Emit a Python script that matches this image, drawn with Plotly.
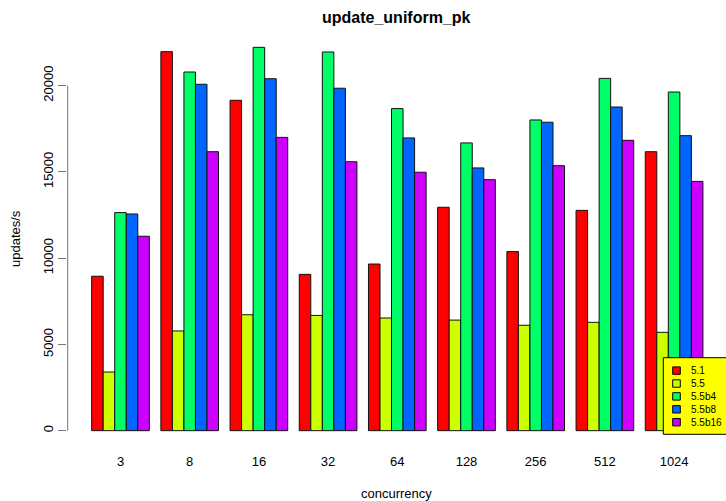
import plotly.graph_objects as go

categories = ["3", "8", "16", "32", "64", "128", "256", "512", "1024"]
series_names = ["5.1", "5.5", "5.5b4", "5.5b8", "5.5b16"]
v_51 = [8950, 21970, 19150, 9060, 9660, 12950, 10380, 12770, 16170]
v_55 = [3400, 5780, 6720, 6680, 6530, 6410, 6110, 6280, 5700]
v_55b4 = [12640, 20790, 22220, 21950, 18670, 16680, 18010, 20420, 19630]
v_55b8 = [12560, 20080, 20400, 19850, 16970, 15230, 17880, 18760, 17100]
v_55b16 = [11270, 16170, 17000, 15590, 14980, 14550, 15360, 16830, 14450]
y_ticks = [0, 5000, 10000, 15000, 20000]

series_values = [v_51, v_55, v_55b4, v_55b8, v_55b16]
colors = ["#FF0000", "#CCFF00", "#00FF66", "#0066FF", "#CC00FF"]

W, H = 726, 501
ML, MR, MT, MB = 67, 0, 32, 55
PW = W - ML - MR
PH = H - MT - MB
FONT = "Liberation Sans, Arial, sans-serif"


def px_x(px):
    return (px - ML) / PW


def px_y(py):
    return (H - MB - py) / PH


fig = go.Figure()
for name, vals, col in zip(series_names, series_values, colors):
    fig.add_trace(go.Bar(
        x=categories, y=vals, name=name,
        marker=dict(color=col, line=dict(color="#111111", width=1)),
        showlegend=False,
    ))

ymax = max(max(v) for v in series_values)
pad = 0.04 * ymax

fig.update_layout(
    width=W, height=H,
    margin=dict(l=ML, r=MR, t=MT, b=MB),
    paper_bgcolor="white", plot_bgcolor="white",
    barmode="group", bargap=1 / 6, bargroupgap=0,
    font=dict(family=FONT, size=13, color="black"),
    xaxis=dict(
        type="category", range=[-0.773, 8.75],
        showgrid=False, showline=False, zeroline=False,
        ticks="outside", ticklen=3, tickcolor="rgba(0,0,0,0)",
        tickfont=dict(size=13, family=FONT, color="black"),
    ),
    yaxis=dict(
        range=[-pad, ymax + pad],
        showgrid=False, showline=False, zeroline=False,
        tickvals=y_ticks, ticktext=[str(t) for t in y_ticks],
        ticks="outside", ticklen=8, tickcolor="#777777", tickwidth=1,
        tickangle=-90,
        tickfont=dict(size=13, family=FONT, color="black"),
    ),
    showlegend=False,
)

shapes = [
    dict(type="line", xref="paper", yref="y", x0=px_x(67.7), x1=px_x(67.7),
         y0=y_ticks[0], y1=y_ticks[-1], line=dict(color="#777777", width=1)),
    dict(type="rect", xref="paper", yref="paper",
         x0=px_x(663.3), x1=px_x(740), y0=px_y(434.3), y1=px_y(357.7),
         fillcolor="#FFFF00", line=dict(color="black", width=1), layer="above"),
]
annotations = [
    dict(text="<b>update_uniform_pk</b>", xref="paper", yref="paper",
         x=0.5, y=px_y(17), xanchor="center", yanchor="middle", showarrow=False,
         font=dict(size=16, family=FONT, color="black")),
    dict(text="concurrency", xref="paper", yref="paper",
         x=0.5, y=px_y(493), xanchor="center", yanchor="middle", showarrow=False,
         font=dict(size=13, family=FONT, color="black")),
    dict(text="updates/s", xref="paper", yref="paper",
         x=px_x(15), y=px_y(239), xanchor="center", yanchor="middle", showarrow=False,
         textangle=-90, font=dict(size=13, family=FONT, color="black")),
]
for i, (name, col) in enumerate(zip(series_names, colors)):
    cy = 370.6 + i * 12.9
    shapes.append(dict(type="rect", xref="paper", yref="paper",
                       x0=px_x(672.7), x1=px_x(680.3),
                       y0=px_y(cy + 3.7), y1=px_y(cy - 3.7),
                       fillcolor=col, line=dict(color="black", width=1), layer="above"))
    annotations.append(dict(text=name, xref="paper", yref="paper",
                            x=px_x(689), y=px_y(cy), xanchor="left", yanchor="middle",
                            showarrow=False,
                            font=dict(size=10, family=FONT, color="black")))

fig.update_layout(shapes=shapes, annotations=annotations)
fig.write_html(
    "out.html",
    config={"displayModeBar": False, "staticPlot": True},
    post_script="document.body.style.margin='0';document.body.style.overflow='hidden';",
)
